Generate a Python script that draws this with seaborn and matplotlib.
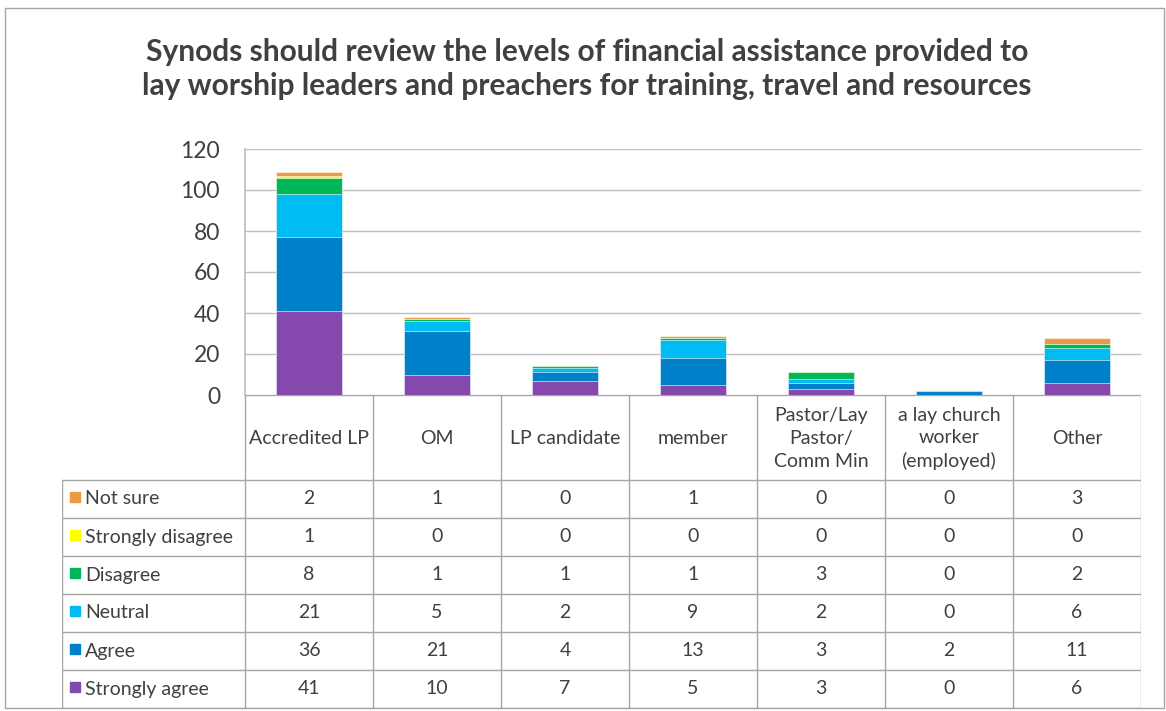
import matplotlib
matplotlib.use("Agg")
import matplotlib.pyplot as plt
import seaborn as sns
import pandas as pd
import numpy as np
from matplotlib.patches import Rectangle

categories = ["Accredited LP", "OM", "LP candidate", "member",
              "Pastor/Lay\nPastor/\nComm Min", "a lay church\nworker\n(employed)", "Other"]
series = ["Strongly agree", "Agree", "Neutral", "Disagree", "Strongly disagree", "Not sure"]
strongly_agree = [41, 10, 7, 5, 3, 0, 6]
agree = [36, 21, 4, 13, 3, 2, 11]
neutral = [21, 5, 2, 9, 2, 0, 6]
disagree = [8, 1, 1, 1, 3, 0, 2]
strongly_disagree = [1, 0, 0, 0, 0, 0, 0]
not_sure = [2, 1, 0, 1, 0, 0, 3]
colors = ["#8549AD", "#0080C8", "#00BCF2", "#00B858", "#FFFF00", "#EB9B48"]
values = [strongly_agree, agree, neutral, disagree, strongly_disagree, not_sure]
yticks = [0, 20, 40, 60, 80, 100, 120]
title = "Synods should review the levels of financial assistance provided to\nlay worship leaders and preachers for training, travel and resources"

sns.set_theme(style="white")
plt.rcParams['font.family'] = ['Lato', 'DejaVu Sans']
W, H = 1166, 711
fig = plt.figure(figsize=(W / 100, H / 100), dpi=100)
txt = "#404040"

# outer border
fig.patches.append(Rectangle((5 / W, 1 - 708 / H), 1159 / W, 700 / H, transform=fig.transFigure,
                             fill=False, edgecolor="#A6A6A6", linewidth=1.0))

ax = fig.add_axes([245 / W, 1 - 395 / H, 896 / W, 246 / H])
cum = np.cumsum(np.array(values), axis=0)
xlab = [c.replace("\n", " ") for c in categories]
for i in range(len(series) - 1, -1, -1):
    df = pd.DataFrame({"cat": xlab, "val": cum[i]})
    sns.barplot(data=df, x="cat", y="val", color=colors[i], width=0.52, ax=ax,
                saturation=1, edgecolor="white", linewidth=0.4, zorder=3)
ax.set_ylim(0, 120)
ax.set_xlim(-0.5, 6.5)
ax.set_yticks(yticks)
ax.set_yticklabels([str(t) for t in yticks], fontsize=16.5, color=txt)
ax.tick_params(axis="y", length=0, pad=18)
ax.set_xticks([])
ax.set_xlabel("")
ax.set_ylabel("")
ax.grid(axis="y", color="#BFBFBF", linewidth=1.0, zorder=0)
for s in ["top", "right", "bottom"]:
    ax.spines[s].set_visible(False)
ax.spines["left"].set_color("#BFBFBF")
ax.set_facecolor("none")

fig.text(587 / W, 1 - 69 / H, title, ha="center", va="center", fontsize=21.5,
         fontweight="bold", color=txt, linespacing=1.3)

# data table
tb = fig.add_axes([62 / W, 1 - 708 / H, 1079 / W, 313 / H])
tb.set_xlim(62, 1141)
tb.set_ylim(708, 395)
tb.axis("off")
lc = "#A6A6A6"
x0 = 245
cw = 128
hdr = 480
rh = (708 - 480) / 6
for j in range(8):
    tb.plot([x0 + j * cw] * 2, [395, 708], color=lc, lw=1)
tb.plot([62, 62], [hdr, 708], color=lc, lw=1)
tb.plot([x0, 1141], [395, 395], color=lc, lw=1)
for r in range(7):
    y = hdr + r * rh
    tb.plot([62, 1141], [y, y], color=lc, lw=1)
for j, c in enumerate(categories):
    tb.text(x0 + j * cw + cw / 2, (395 + hdr) / 2 + 1, c, ha="center", va="center",
            fontsize=14, color=txt, linespacing=1.4)
for r, i in enumerate(range(len(series) - 1, -1, -1)):
    yc = hdr + r * rh + rh / 2
    tb.add_patch(Rectangle((70, yc - 7), 10, 10, color=colors[i]))
    tb.text(85, yc, series[i], ha="left", va="center", fontsize=14, color=txt)
    for j in range(len(categories)):
        tb.text(x0 + j * cw + cw / 2, yc, str(values[i][j]), ha="center", va="center",
                fontsize=14, color=txt)

fig.savefig("out.png", dpi=100)
